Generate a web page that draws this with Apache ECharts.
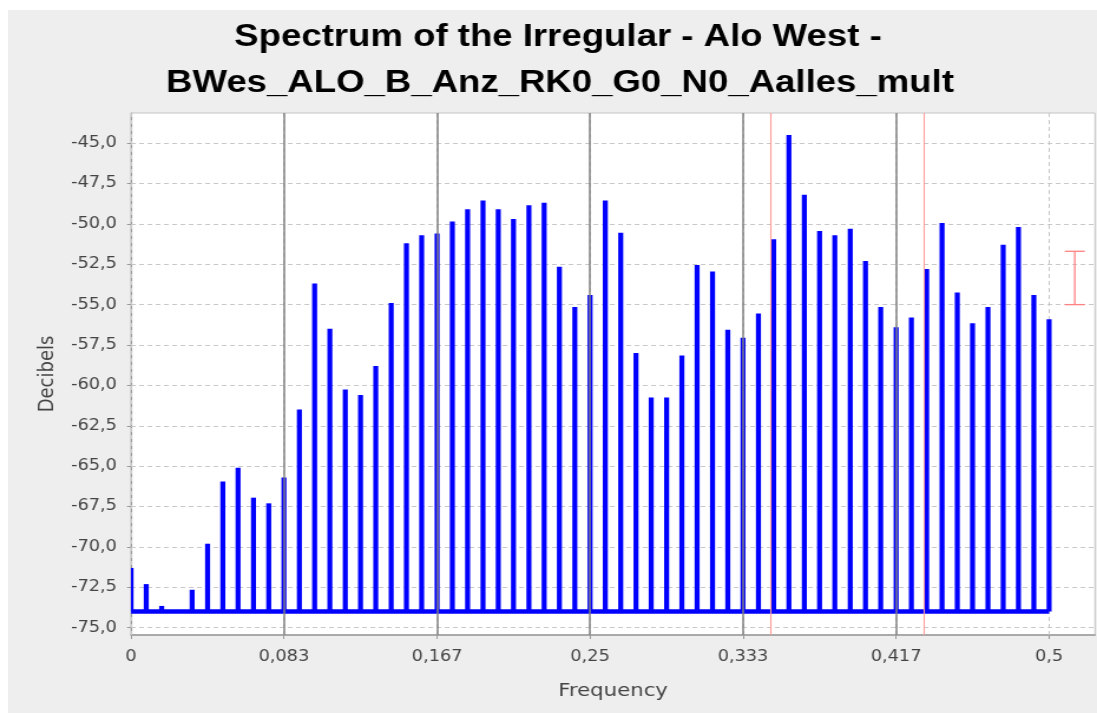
<!DOCTYPE html>
<html>
<head>
<meta charset="utf-8">
<title>Spectrum of the Irregular</title>
<script src="https://cdn.jsdelivr.net/npm/echarts@6/dist/echarts.min.js"></script>
<style>
  html, body { margin: 0; padding: 0; background: #fff; overflow: hidden; }
  #panel { position: absolute; left: 8px; top: 10px; width: 1089px; height: 703px; background: #eeeeee; }
  /* the source picture is stretched sideways, so the chart is drawn narrower and scaled */
  #chart { position: absolute; left: 0; top: 0; width: 930px; height: 713px; transform: scaleX(1.17957); transform-origin: 0 0; }
</style>
</head>
<body>
<div id="panel"></div>
<div id="chart"></div>
<script>
var frequency = [
  0, 0.0083, 0.0167, 0.025, 0.0333, 0.0417, 0.05, 0.0583, 0.0667, 0.075,
  0.0833, 0.0917, 0.1, 0.1083, 0.1167, 0.125, 0.1333, 0.1417, 0.15, 0.1583,
  0.1667, 0.175, 0.1833, 0.1917, 0.2, 0.2083, 0.2167, 0.225, 0.2333, 0.2417,
  0.25, 0.2583, 0.2667, 0.275, 0.2833, 0.2917, 0.3, 0.3083, 0.3167, 0.325,
  0.3333, 0.3417, 0.35, 0.3583, 0.3667, 0.375, 0.3833, 0.3917, 0.4, 0.4083,
  0.4167, 0.425, 0.4333, 0.4417, 0.45, 0.4583, 0.4667, 0.475, 0.4833, 0.4917,
  0.5
];
var decibels = [
  -71.3, -72.3, -73.65, -73.9, -72.65, -69.8, -65.95, -65.1, -66.95, -67.3,
  -65.7, -61.5, -53.7, -56.5, -60.25, -60.6, -58.8, -54.9, -51.2, -50.7,
  -50.6, -49.85, -49.1, -48.55, -49.1, -49.7, -48.85, -48.7, -52.65, -55.15,
  -54.4, -48.55, -50.55, -58.0, -60.75, -60.75, -58.15, -52.55, -52.95, -56.55,
  -57.05, -55.55, -50.95, -44.5, -48.2, -50.45, -50.7, -50.3, -52.3, -55.15,
  -56.4, -55.8, -52.8, -49.95, -54.25, -56.15, -55.15, -51.3, -50.2, -54.4,
  -55.9
];
var baseline = -74;
var seasonalFreq = [0.0833, 0.1667, 0.25, 0.3333, 0.4167];
var tradingDayFreq = [0.348, 0.432];
var xTicks = [0, 0.0833, 0.1667, 0.25, 0.3333, 0.4167, 0.5];
var xTickLabels = ['0', '0,083', '0,167', '0,25', '0,333', '0,417', '0,5'];
var yTicks = [-75, -72.5, -70, -67.5, -65, -62.5, -60, -57.5, -55, -52.5, -50, -47.5, -45];
var errorBar = [[0.514, -55.0, -51.7]];

var S = 1097 / 930;
var tickFont = 'DejaVu Sans';

var chart = echarts.init(document.getElementById('chart'), null, { renderer: 'canvas' });

var gridLines = xTicks.map(function (v) { return { xAxis: v }; })
  .concat(yTicks.map(function (v) { return { yAxis: v }; }));
var markerLines = seasonalFreq.map(function (v) {
  return { xAxis: v, lineStyle: { color: '#808080', width: 1.5, type: 'solid' } };
}).concat(tradingDayFreq.map(function (v) {
  return { xAxis: v, lineStyle: { color: '#ff9c9c', width: 1.1, type: 'solid' } };
}));

chart.setOption({
  animation: false,
  backgroundColor: 'transparent',
  graphic: [
    {
      type: 'text', x: 558 / S, y: 37, silent: true,
      style: {
        text: 'Spectrum of the Irregular - Alo West -',
        fill: '#000', font: 'bold 31px "Liberation Sans", Arial, sans-serif',
        align: 'center', verticalAlign: 'middle', textAlign: 'center', textVerticalAlign: 'middle'
      }
    },
    {
      type: 'text', x: 560 / S, y: 83, silent: true,
      style: {
        text: 'BWes_ALO_B_Anz_RK0_G0_N0_Aalles_mult',
        fill: '#000', font: 'bold 31px "Liberation Sans", Arial, sans-serif',
        align: 'center', verticalAlign: 'middle', textAlign: 'center', textVerticalAlign: 'middle'
      }
    }
  ],
  grid: {
    left: 131 / S, right: 2 / S, top: 113, bottom: 78,
    show: true, backgroundColor: '#ffffff', borderColor: '#c4c4c4', borderWidth: 1
  },
  xAxis: {
    type: 'value',
    min: 0,
    max: 0.525,
    name: 'Frequency',
    nameLocation: 'middle',
    nameGap: 47,
    nameTextStyle: { fontFamily: tickFont, fontSize: 18, color: '#444' },
    axisLine: { lineStyle: { color: '#999', width: 1.5 } },
    axisTick: { customValues: xTicks, length: 4, lineStyle: { color: '#999' } },
    axisLabel: {
      customValues: xTicks,
      margin: 15,
      fontFamily: tickFont, fontSize: 15, color: '#444',
      formatter: function (v) {
        var i = xTicks.indexOf(v);
        return i >= 0 ? xTickLabels[i] : String(v).replace('.', ',');
      }
    },
    splitLine: { show: false }
  },
  yAxis: {
    type: 'value',
    min: -75.45,
    max: -43.14,
    name: 'Decibels',
    nameLocation: 'middle',
    nameGap: 62,
    nameTextStyle: { fontFamily: tickFont, fontSize: 18, color: '#444' },
    axisLine: { show: true, lineStyle: { color: '#999', width: 1.2 } },
    axisTick: { show: true, customValues: yTicks, length: 4 / S, lineStyle: { color: '#999' } },
    axisLabel: {
      customValues: yTicks,
      margin: 12,
      fontFamily: tickFont, fontSize: 15, color: '#444',
      formatter: function (v) { return v.toFixed(1).replace('.', ','); }
    },
    splitLine: { show: false }
  },
  series: [
    {
      type: 'custom',
      name: 'Spectrum',
      clip: true,
      data: frequency.map(function (f, i) { return [f, decibels[i]]; }),
      renderItem: function (params, api) {
        var top = api.coord([api.value(0), api.value(1)]);
        var base = api.coord([api.value(0), baseline]);
        return {
          type: 'line',
          shape: { x1: top[0], y1: base[1], x2: top[0], y2: top[1] },
          style: { stroke: '#0000ff', lineWidth: 5 / S }
        };
      },
      markLine: {
        z: 1, silent: true, symbol: 'none', precision: 6, label: { show: false },
        lineStyle: { color: '#c8c8c8', width: 1, type: [4, 3] },
        data: gridLines
      }
    },
    {
      type: 'line',
      name: 'Base',
      data: [[0, baseline], [0.5, baseline]],
      symbol: 'none',
      lineStyle: { color: '#0000ff', width: 4.5 },
      markLine: {
        silent: true, symbol: 'none', precision: 6, label: { show: false },
        data: markerLines
      }
    },
    {
      type: 'custom',
      name: 'Band',
      data: errorBar,
      renderItem: function (params, api) {
        var lo = api.coord([api.value(0), api.value(1)]);
        var hi = api.coord([api.value(0), api.value(2)]);
        var w = 10 / S;
        var st = { stroke: '#ff8080', lineWidth: 1.3 };
        return {
          type: 'group',
          children: [
            { type: 'line', shape: { x1: lo[0], y1: lo[1], x2: hi[0], y2: hi[1] }, style: st },
            { type: 'line', shape: { x1: lo[0] - w, y1: lo[1], x2: lo[0] + w, y2: lo[1] }, style: st },
            { type: 'line', shape: { x1: hi[0] - w, y1: hi[1], x2: hi[0] + w, y2: hi[1] }, style: st }
          ]
        };
      }
    }
  ]
});
</script>
</body>
</html>
